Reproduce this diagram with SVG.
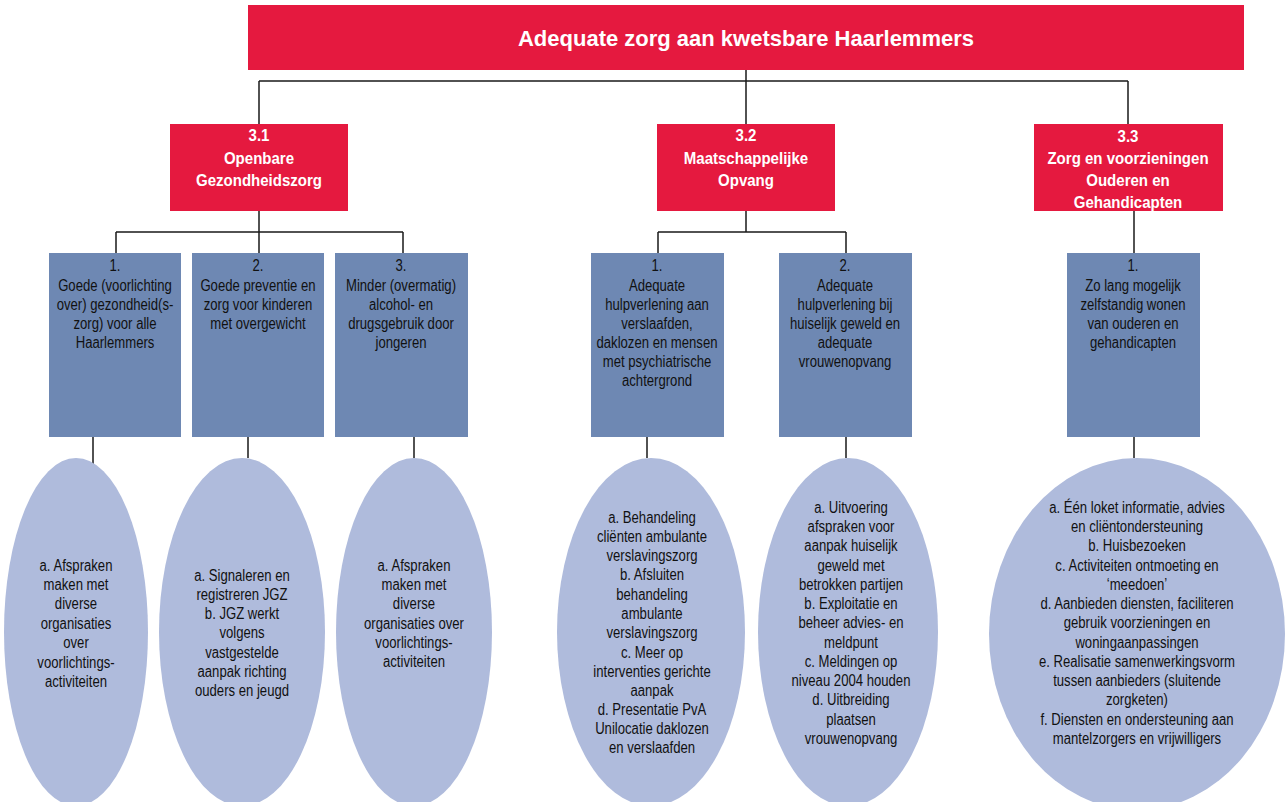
<svg xmlns="http://www.w3.org/2000/svg" width="1287" height="802" viewBox="0 0 1287 802">
<style>
.red{fill:#E5193F}
.blue{fill:#6E88B3}
.ell{fill:#AFBBDC}
.tw{font-family:"Liberation Sans",Arial,sans-serif;font-weight:bold;fill:#fff;text-anchor:middle;font-size:16px}
.tt{font-family:"Liberation Sans",Arial,sans-serif;font-weight:bold;fill:#fff;text-anchor:middle;font-size:22px}
.tb{font-family:"Liberation Sans",Arial,sans-serif;fill:#111;text-anchor:middle;font-size:16px}
.ln{fill:none;stroke:#1a1a1a;stroke-width:1.5}
</style>
<rect width="1287" height="802" fill="#fff"/>
<g id="connectors" class="ln">
<path d="M746 70V81M259 81H1128M259 81V124M746 81V124M1128 81V124"/>
<path d="M259 211V232M116 232H403M116 232V253M259 232V253M403 232V253"/>
<path d="M746 211V232M658 232H846M658 232V253M846 232V253"/>
<path d="M1134 211V253"/>
<path d="M93 437V469M248 437V458M414 437V458M647 437V458M846 437V458M1134 437V458"/>
</g>
<g id="root">
<rect class="red" x="248" y="5" width="996" height="65"/>
<text class="tt" x="746" y="46">Adequate zorg aan kwetsbare Haarlemmers</text>
</g>
<g id="n31">
<rect class="red" x="170" y="124" width="178" height="87"/>
<text class="tw" transform="translate(259 0) scale(0.94 1)"><tspan x="0" y="141">3.1</tspan><tspan x="0" y="164">Openbare</tspan><tspan x="0" y="186">Gezondheidszorg</tspan></text>
</g>
<g id="n32">
<rect class="red" x="657" y="124" width="178" height="87"/>
<text class="tw" transform="translate(746 0) scale(0.94 1)"><tspan x="0" y="141">3.2</tspan><tspan x="0" y="164">Maatschappelijke</tspan><tspan x="0" y="186">Opvang</tspan></text>
</g>
<g id="n33">
<rect class="red" x="1034" y="124" width="189" height="87"/>
<text class="tw" transform="translate(1128 0) scale(0.94 1)"><tspan x="0" y="142">3.3</tspan><tspan x="0" y="164">Zorg en voorzieningen</tspan><tspan x="0" y="186">Ouderen en</tspan><tspan x="0" y="208">Gehandicapten</tspan></text>
</g>
<g id="b311">
<rect class="blue" x="49" y="253" width="132" height="184"/>
<text class="tb" transform="translate(115 0) scale(0.82 1)"><tspan x="0" y="271">1.</tspan><tspan x="0" y="291">Goede (voorlichting</tspan><tspan x="0" y="310">over) gezondheid(s-</tspan><tspan x="0" y="329">zorg) voor alle</tspan><tspan x="0" y="348">Haarlemmers</tspan></text>
</g>
<g id="b312">
<rect class="blue" x="192" y="253" width="132" height="184"/>
<text class="tb" transform="translate(258 0) scale(0.82 1)"><tspan x="0" y="271">2.</tspan><tspan x="0" y="291">Goede preventie en</tspan><tspan x="0" y="310">zorg voor kinderen</tspan><tspan x="0" y="329">met overgewicht</tspan></text>
</g>
<g id="b313">
<rect class="blue" x="335" y="253" width="133" height="184"/>
<text class="tb" transform="translate(401 0) scale(0.82 1)"><tspan x="0" y="271">3.</tspan><tspan x="0" y="291">Minder (overmatig)</tspan><tspan x="0" y="310">alcohol- en</tspan><tspan x="0" y="329">drugsgebruik door</tspan><tspan x="0" y="348">jongeren</tspan></text>
</g>
<g id="b321">
<rect class="blue" x="591" y="253" width="133" height="184"/>
<text class="tb" transform="translate(657 0) scale(0.82 1)"><tspan x="0" y="271">1.</tspan><tspan x="0" y="291">Adequate</tspan><tspan x="0" y="310">hulpverlening aan</tspan><tspan x="0" y="329">verslaafden,</tspan><tspan x="0" y="348">daklozen en mensen</tspan><tspan x="0" y="367">met psychiatrische</tspan><tspan x="0" y="386">achtergrond</tspan></text>
</g>
<g id="b322">
<rect class="blue" x="779" y="253" width="133" height="184"/>
<text class="tb" transform="translate(845 0) scale(0.82 1)"><tspan x="0" y="271">2.</tspan><tspan x="0" y="291">Adequate</tspan><tspan x="0" y="310">hulpverlening bij</tspan><tspan x="0" y="329">huiselijk geweld en</tspan><tspan x="0" y="348">adequate</tspan><tspan x="0" y="367">vrouwenopvang</tspan></text>
</g>
<g id="b331">
<rect class="blue" x="1067" y="253" width="133" height="184"/>
<text class="tb" transform="translate(1133 0) scale(0.82 1)"><tspan x="0" y="271">1.</tspan><tspan x="0" y="291">Zo lang mogelijk</tspan><tspan x="0" y="310">zelfstandig wonen</tspan><tspan x="0" y="329">van ouderen en</tspan><tspan x="0" y="348">gehandicapten</tspan></text>
</g>
<g id="e311">
<ellipse class="ell" cx="76" cy="632" rx="72" ry="174"/>
<text class="tb" transform="translate(76 0) scale(0.82 1)"><tspan x="0" y="571">a. Afspraken</tspan><tspan x="0" y="590">maken met</tspan><tspan x="0" y="609">diverse</tspan><tspan x="0" y="629">organisaties</tspan><tspan x="0" y="648">over</tspan><tspan x="0" y="668">voorlichtings-</tspan><tspan x="0" y="687">activiteiten</tspan></text>
</g>
<g id="e312">
<ellipse class="ell" cx="242" cy="632" rx="83" ry="174"/>
<text class="tb" transform="translate(242 0) scale(0.82 1)"><tspan x="0" y="581">a. Signaleren en</tspan><tspan x="0" y="600">registreren JGZ</tspan><tspan x="0" y="619">b. JGZ werkt</tspan><tspan x="0" y="638">volgens</tspan><tspan x="0" y="658">vastgestelde</tspan><tspan x="0" y="677">aanpak richting</tspan><tspan x="0" y="696">ouders en jeugd</tspan></text>
</g>
<g id="e313">
<ellipse class="ell" cx="414" cy="632" rx="78" ry="174"/>
<text class="tb" transform="translate(414 0) scale(0.82 1)"><tspan x="0" y="571">a. Afspraken</tspan><tspan x="0" y="590">maken met</tspan><tspan x="0" y="609">diverse</tspan><tspan x="0" y="629">organisaties over</tspan><tspan x="0" y="648">voorlichtings-</tspan><tspan x="0" y="667">activiteiten</tspan></text>
</g>
<g id="e321">
<ellipse class="ell" cx="651" cy="632" rx="94" ry="174"/>
<text class="tb" transform="translate(652 0) scale(0.82 1)"><tspan x="0" y="523">a. Behandeling</tspan><tspan x="0" y="542">cliënten ambulante</tspan><tspan x="0" y="561">verslavingszorg</tspan><tspan x="0" y="580">b. Afsluiten</tspan><tspan x="0" y="600">behandeling</tspan><tspan x="0" y="619">ambulante</tspan><tspan x="0" y="638">verslavingszorg</tspan><tspan x="0" y="658">c. Meer op</tspan><tspan x="0" y="677">interventies gerichte</tspan><tspan x="0" y="696">aanpak</tspan><tspan x="0" y="715">d. Presentatie PvA</tspan><tspan x="0" y="734">Unilocatie daklozen</tspan><tspan x="0" y="753">en verslaafden</tspan></text>
</g>
<g id="e322">
<ellipse class="ell" cx="848" cy="632" rx="90" ry="174"/>
<text class="tb" transform="translate(851 0) scale(0.82 1)"><tspan x="0" y="513">a. Uitvoering</tspan><tspan x="0" y="532">afspraken voor</tspan><tspan x="0" y="551">aanpak huiselijk</tspan><tspan x="0" y="571">geweld met</tspan><tspan x="0" y="590">betrokken partijen</tspan><tspan x="0" y="609">b. Exploitatie en</tspan><tspan x="0" y="628">beheer advies- en</tspan><tspan x="0" y="648">meldpunt</tspan><tspan x="0" y="667">c. Meldingen op</tspan><tspan x="0" y="686">niveau 2004 houden</tspan><tspan x="0" y="705">d. Uitbreiding</tspan><tspan x="0" y="725">plaatsen</tspan><tspan x="0" y="744">vrouwenopvang</tspan></text>
</g>
<g id="e331">
<ellipse class="ell" cx="1137" cy="634" rx="148" ry="176"/>
<text class="tb" transform="translate(1137 0) scale(0.82 1)"><tspan x="0" y="513">a. Één loket informatie, advies</tspan><tspan x="0" y="532">en cliëntondersteuning</tspan><tspan x="0" y="551">b. Huisbezoeken</tspan><tspan x="0" y="571">c. Activiteiten ontmoeting en</tspan><tspan x="0" y="590">‘meedoen’</tspan><tspan x="0" y="609">d. Aanbieden diensten, faciliteren</tspan><tspan x="0" y="628">gebruik voorzieningen en</tspan><tspan x="0" y="648">woningaanpassingen</tspan><tspan x="0" y="667">e. Realisatie samenwerkingsvorm</tspan><tspan x="0" y="686">tussen aanbieders (sluitende</tspan><tspan x="0" y="705">zorgketen)</tspan><tspan x="0" y="725">f. Diensten en ondersteuning aan</tspan><tspan x="0" y="744">mantelzorgers en vrijwilligers</tspan></text>
</g>
</svg>
